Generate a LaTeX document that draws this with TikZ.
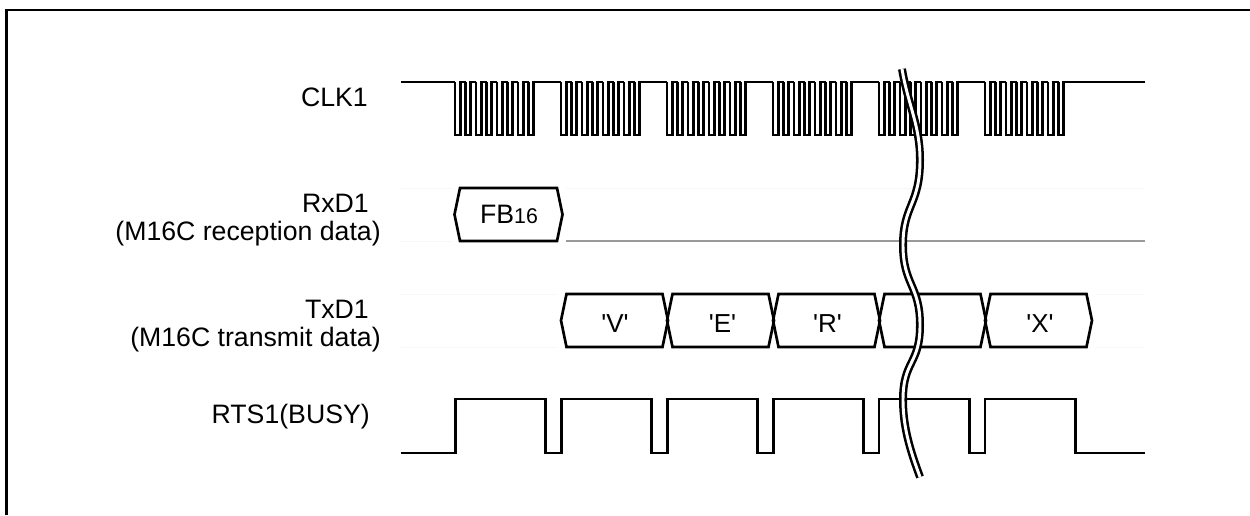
\documentclass[tikz,border=0pt]{standalone}
\usepackage{fontspec}
\setmainfont{Liberation Sans}
\newfontfamily\valfont{Liberation Sans}
\usetikzlibrary{calc}
\definecolor{ink}{HTML}{000000}
\definecolor{idle}{HTML}{999999}
\definecolor{ghost}{HTML}{F7F7F7}
\tikzset{
  wave/.style={ink,line width=2pt,line join=miter},
  sig/.style={font=\fontsize{20}{20.5}\selectfont,align=right,inner sep=0pt},
  val/.style={font=\valfont\fontsize{19.5}{22}\selectfont,anchor=base,inner sep=0pt}
}
% one data cell: left tip, right tip, top, middle, bottom
\newcommand{\datacell}[5]{%
  \draw[wave] (#1,#4) -- (#1+5.5,#3) -- (#2-5.5,#3) -- (#2,#4) -- (#2-5.5,#5) -- (#1+5.5,#5) -- cycle;}
\begin{document}
\begin{tikzpicture}[x=0.75pt,y=-0.75pt]
  \useasboundingbox (0,0) rectangle (1250,515);
  % frame
  \draw[ink,line width=2.2pt] (6.5,515) -- (6.5,10) -- (1250,10);
  % labels
  \node[sig,anchor=base east] (clk) at (368,106) {CLK1};
  \node[sig,anchor=east] (rxd) at (381,220) {RxD1\hspace*{9pt}\\(M16C reception data)};
  \node[sig,anchor=east] (txd) at (381,326) {TxD1\hspace*{9pt}\\(M16C transmit data)};
  \node[sig,anchor=base east] (rts) at (370,423) {RTS1(BUSY)};
  % faint bus levels
  \draw[ghost] (401,188) -- (452,188) (401,241) -- (452,241) (566,188) -- (1145,188);
  \draw[ghost] (401,294) -- (557,294) (401,347) -- (557,347) (1096,294) -- (1145,294) (1096,347) -- (1145,347);
  \draw[idle,line width=1.2pt] (566,241) -- (1145,241);
  % clock
  \draw[wave] (401,82) -- (455,82);
  \foreach \b in {455,561,667,773,879,985} {
    \foreach \p in {0,...,7} {
      \draw[wave] (\b+\p*10.5,82) -- (\b+\p*10.5,135) -- (\b+\p*10.5+5.3,135) -- (\b+\p*10.5+5.3,82)
        -- (\b+\p*10.5+10.5,82);
    }
    \draw[wave] (\b+79,82) -- (\b+106,82);
  }
  \draw[wave] (1065,82) -- (1145,82);
  % received data
  \datacell{454.5}{562.5}{188}{214.5}{241}
  \node[val] (fb) at (509,223) {\fontsize{20}{22}\selectfont FB{\fontsize{16}{18}\selectfont 16}};
  % transmitted data
  \datacell{561}{668}{294}{320.5}{347}
  \datacell{667}{774}{294}{320.5}{347}
  \datacell{773}{880}{294}{320.5}{347}
  \datacell{879}{986}{294}{320.5}{347}
  \datacell{985}{1092}{294}{320.5}{347}
  \node[val] (v) at (615,332) {'V'};
  \node[val] (e) at (722.5,332) {'E'};
  \node[val] (r) at (827.5,332) {'R'};
  \node[val] (x) at (1040,332) {'X'};
  % busy
  \draw[wave] (401,453) -- (455.5,453) -- (455.5,399) -- (545.5,399) -- (545.5,453) -- (561.5,453) -- (561.5,399)
    -- (651.5,399) -- (651.5,453) -- (667.5,453) -- (667.5,399) -- (757.5,399) -- (757.5,453) -- (773.5,453)
    -- (773.5,399) -- (863.5,399) -- (863.5,453) -- (879,453) -- (879,399) -- (969.5,399) -- (969.5,453)
    -- (985,453) -- (985,399) -- (1075.5,399) -- (1075.5,453) -- (1145,453);
  % break in the time axis
  \draw[ink,line width=1.9pt,double=white,double distance=2.2pt] (902,69) .. controls (908,105) and (920,125) .. (920,160)
    .. controls (920,205) and (903,205) .. (903,245) .. controls (903,285) and (920,285) .. (920,325)
    .. controls (920,365) and (903,360) .. (903,400) .. controls (903,430) and (912,455) .. (920,477);
\end{tikzpicture}
\end{document}
